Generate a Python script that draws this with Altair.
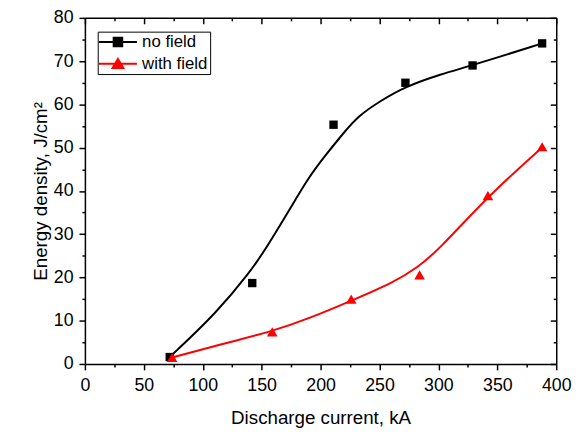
import altair as alt
import pandas as pd

FONT = "Liberation Sans"

series_names = ["no field", "with field"]
series_colors = ["#000000", "#ff0000"]

# measured points
nofield_x = [72, 142, 211, 272, 329, 388]
nofield_y = [1.6, 18.7, 55.3, 65.0, 69.0, 74.1]
withfield_x = [74, 159, 226, 284, 342, 388]
withfield_y = [1.5, 7.4, 15.0, 20.6, 38.9, 50.2]

# fitted curves
nofield_curve_x = [72, 112, 140, 153, 174, 190, 204, 218, 232, 252, 271, 302, 330, 388]
nofield_curve_y = [1.6, 11.9, 21.2, 26.4, 35.8, 43.2, 48.2, 52.9, 57.4, 61.0, 64.0, 67.0, 69.1, 74.1]
withfield_curve_x = [74, 112, 160, 190, 226, 263, 282, 299, 342, 389]
withfield_curve_y = [1.5, 4.3, 7.6, 10.5, 14.6, 19.0, 22.3, 26.0, 38.8, 50.3]

x_ticks = list(range(0, 401, 25))
y_ticks = list(range(0, 81, 5))

points_df = pd.DataFrame({
    "x": nofield_x + withfield_x,
    "y": nofield_y + withfield_y,
    "series": [series_names[0]] * len(nofield_x) + [series_names[1]] * len(withfield_x),
})
curve_df = pd.DataFrame({
    "x": nofield_curve_x + withfield_curve_x,
    "y": nofield_curve_y + withfield_curve_y,
    "series": [series_names[0]] * len(nofield_curve_x) + [series_names[1]] * len(withfield_curve_x),
})

xs = alt.Scale(domain=[0, 400], nice=False, zero=False)
ys = alt.Scale(domain=[0, 80], nice=False, zero=False)

x_bottom = alt.Axis(
    values=x_ticks, labelExpr="datum.value % 50 === 0 ? datum.label : ''",
    tickSize=alt.ExprRef(expr="datum.value % 50 === 0 ? 6 : 3"),
    labelPadding=7, labelFlush=False, labelOverlap=False,
    title="Discharge current, kA", titlePadding=14, grid=False,
)
y_left = alt.Axis(
    values=y_ticks, labelExpr="datum.value % 10 === 0 ? datum.label : ''",
    tickSize=alt.ExprRef(expr="datum.value % 10 === 0 ? 6 : 3"),
    labelPadding=6, labelFlush=False, labelOverlap=False,
    title="Energy density, J/cm\u00b2", titlePadding=3, grid=False,
)
x_top = alt.Axis(
    orient="top", values=x_ticks, labels=False, title="",
    tickSize=alt.ExprRef(expr="datum.value % 50 === 0 ? -6 : -3"), grid=False,
)
y_right = alt.Axis(
    orient="right", values=y_ticks, labels=False, title="",
    tickSize=alt.ExprRef(expr="datum.value % 10 === 0 ? -6 : -3"), grid=False,
)

color_scale = alt.Scale(domain=series_names, range=series_colors)

lines = alt.Chart(curve_df).mark_line(strokeWidth=2, interpolate="basis").encode(
    x=alt.X("x:Q", scale=xs, axis=x_bottom),
    y=alt.Y("y:Q", scale=ys, axis=y_left),
    color=alt.Color("series:N", scale=color_scale, legend=None),
    detail="series:N",
)

points = alt.Chart(points_df).mark_point(filled=True, opacity=1).encode(
    x=alt.X("x:Q", scale=xs, axis=None),
    y=alt.Y("y:Q", scale=ys, axis=None),
    color=alt.Color("series:N", scale=color_scale, legend=None),
    shape=alt.Shape("series:N", scale=alt.Scale(domain=series_names, range=["square", "triangle-up"]), legend=None),
    size=alt.Size("series:N", scale=alt.Scale(domain=series_names, range=[72, 115]), legend=None),
)

legend_paths = [
    "M-2.75,0H2.75M-0.62,-0.62H0.62V0.62H-0.62Z",
    "M-2.75,0H2.75M0,-0.7L0.78,0.62H-0.78Z",
]
leg = alt.Legend(
    title=None, orient="none", legendX=13, legendY=14, padding=2,
    strokeColor="#000000", fillColor="#ffffff", symbolSize=196, symbolStrokeWidth=2,
    symbolOffset=10, labelOffset=16, rowPadding=4, labelFont=FONT, labelFontSize=17,
    labelColor="#000000",
)
legend_layer = alt.Chart(points_df).transform_filter("false").mark_point(
    filled=True, size=196, opacity=1, strokeWidth=2
).encode(
    x=alt.X("x:Q", scale=xs, axis=None),
    y=alt.Y("y:Q", scale=ys, axis=None),
    color=alt.Color("series:N", scale=color_scale, legend=leg),
    stroke=alt.Stroke("series:N", scale=color_scale, legend=leg),
    shape=alt.Shape("series:N", scale=alt.Scale(domain=series_names, range=legend_paths), legend=leg),
)

frame = alt.Chart(points_df).mark_point(opacity=0).encode(
    x=alt.X("x:Q", scale=xs, axis=x_top),
    y=alt.Y("y:Q", scale=ys, axis=y_right),
)

chart = alt.layer(lines, points, legend_layer, frame).resolve_scale(
    color="independent", shape="independent", stroke="independent", size="independent"
).resolve_axis(
    x="independent", y="independent"
).properties(
    width=478, height=351,
    padding={"left": 78, "top": 7, "right": 18, "bottom": 66},
    autosize=alt.AutoSizeParams(type="none"),
).configure(
    font=FONT
).configure_view(
    stroke="transparent"
).configure_axis(
    domainColor="#000000", domainWidth=1.5, tickColor="#000000", tickWidth=1.5,
    labelFont=FONT, labelFontSize=18, labelColor="#000000",
    titleFont=FONT, titleFontSize=19, titleColor="#000000", titleFontWeight="normal",
)

chart.save("out.html", embed_options={"renderer": "svg", "actions": False})
